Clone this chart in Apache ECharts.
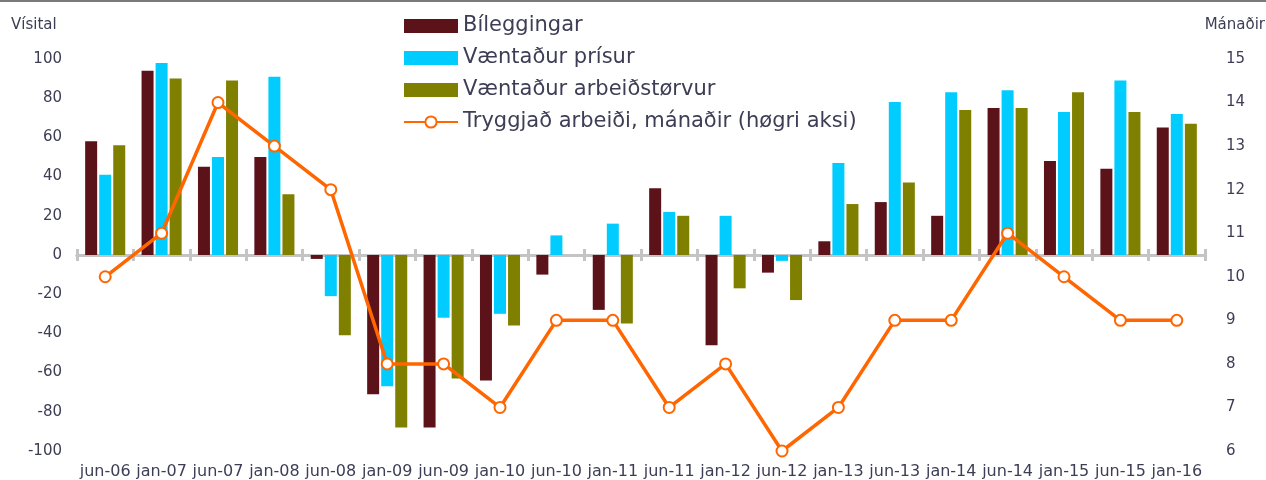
<!DOCTYPE html>
<html>
<head>
<meta charset="utf-8">
<script src="https://cdn.jsdelivr.net/npm/echarts@6/dist/echarts.min.js"></script>
<style>
html,body{margin:0;padding:0;background:#fff;}
#chart{width:1266px;height:480px;}
</style>
</head>
<body>
<div id="chart"></div>
<script>
const categories = ['jun-06','jan-07','jun-07','jan-08','jun-08','jan-09','jun-09','jan-10','jun-10','jan-11','jun-11','jan-12','jun-12','jan-13','jun-13','jan-14','jun-14','jan-15','jun-15','jan-16'];
const bileggingar = [58, 94, 45, 50, -2, -71, -88, -64, -10, -28, 34, -46, -9, 7, 27, 20, 75, 48, 44, 65];
const prisur = [41, 98, 50, 91, -21, -67, -32, -30, 10, 16, 22, 20, -3, 47, 78, 83, 84, 73, 89, 72];
const arbeidstorvur = [56, 90, 89, 31, -41, -88, -63, -36, 0, -35, 20, -17, -23, 26, 37, 74, 75, 83, 73, 67];
const tryggjad = [10, 11, 14, 13, 12, 8, 8, 7, 9, 9, 7, 8, 6, 7, 9, 9, 11, 10, 9, 9];
const leftTicks = {min: -100, max: 100, interval: 20};
const rightTicks = {min: 6, max: 15, interval: 1};

const FONT = 'DejaVu Sans';
const TXT = '#3d3d55';

const chart = echarts.init(document.getElementById('chart'));
const zeroAxis = (inside) => ({
  type: 'category', data: categories, position: 'bottom',
  axisLine: {show: true, onZero: true, onZeroAxisIndex: 0, lineStyle: {color: '#c4c4c4', width: 3}},
  axisTick: {show: true, inside: inside, length: 6, lineStyle: {color: '#c4c4c4', width: 3}},
  axisLabel: {show: false}, splitLine: {show: false}
});
chart.setOption({
  animation: false,
  textStyle: {fontFamily: FONT},
  grid: {left: 77, right: 61, top: 59, bottom: 28},
  legend: {
    orient: 'vertical', left: 403, top: 15, padding: 0, itemWidth: 54, itemHeight: 14, itemGap: 10,
    textStyle: {fontFamily: FONT, fontSize: 21, color: TXT, lineHeight: 22},
    data: [
      {name: 'Bíleggingar', icon: 'rect'},
      {name: 'Væntaður prísur', icon: 'rect'},
      {name: 'Væntaður arbeiðstørvur', icon: 'rect'},
      {name: 'Tryggjað arbeiði, mánaðir (høgri aksi)'}
    ]
  },
  graphic: [
    {type: 'rect', shape: {x: 0, y: 0, width: 1266, height: 2}, style: {fill: '#7a7a7a'}},
    {type: 'text', left: 11, top: 18, style: {text: 'Vísital', font: '15px "DejaVu Sans"', fill: TXT}},
    {type: 'text', right: 1, top: 18, style: {text: 'Mánaðir', font: '15px "DejaVu Sans"', fill: TXT}}
  ],
  xAxis: [
    {type: 'category', data: categories, position: 'bottom',
     axisLine: {show: false, onZero: false}, axisTick: {show: false},
     axisLabel: {interval: 0, margin: 13, fontSize: 16, color: TXT, fontFamily: FONT}},
    zeroAxis(false),
    zeroAxis(true)
  ],
  yAxis: [
    {type: 'value', min: leftTicks.min, max: leftTicks.max, interval: leftTicks.interval,
     axisLine: {show: false}, axisTick: {show: false}, splitLine: {show: false},
     axisLabel: {margin: 15, fontSize: 15, color: TXT, fontFamily: FONT}},
    {type: 'value', min: rightTicks.min, max: rightTicks.max, interval: rightTicks.interval, position: 'right',
     axisLine: {show: false}, axisTick: {show: false}, splitLine: {show: false},
     axisLabel: {margin: 21, fontSize: 15, color: TXT, fontFamily: FONT}}
  ],
  series: [
    {name: 'Bíleggingar', type: 'bar', data: bileggingar, barWidth: 12, barGap: '17%', itemStyle: {color: '#5b1219'}},
    {name: 'Væntaður prísur', type: 'bar', data: prisur, barWidth: 12, barGap: '17%', itemStyle: {color: '#00ccff'}},
    {name: 'Væntaður arbeiðstørvur', type: 'bar', data: arbeidstorvur, barWidth: 12, barGap: '17%', itemStyle: {color: '#808000'}},
    {name: 'Tryggjað arbeiði, mánaðir (høgri aksi)', type: 'line', yAxisIndex: 1, data: tryggjad, z: 5,
     symbol: 'emptyCircle', symbolSize: 11, lineStyle: {color: '#ff6600', width: 3.5},
     itemStyle: {color: '#ff6600', borderWidth: 2.5}}
  ]
});
</script>
</body>
</html>
